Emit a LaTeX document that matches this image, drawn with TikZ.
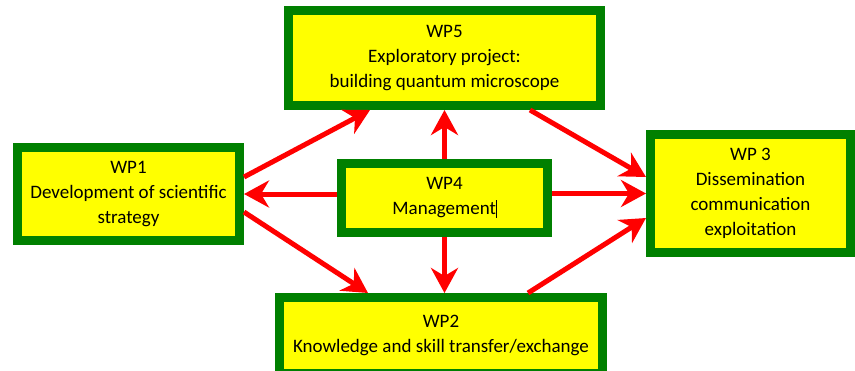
\documentclass[tikz,border=0pt]{standalone}
\usepackage{fontspec}
\setmainfont{Carlito}
\usetikzlibrary{arrows.meta}
\definecolor{wpgreen}{RGB}{0,128,0}
\definecolor{wpyellow}{RGB}{255,255,0}
\definecolor{wpred}{RGB}{255,0,0}
\tikzset{
    wpbox/.style={draw=wpgreen,fill=wpyellow,line width=9pt,align=center,inner sep=2pt,
        font=\fontsize{19}{25}\selectfont},
    link/.style={draw=wpred,line width=5pt,-{Stealth[length=25pt,width=27pt,inset=8pt]}}
}
\begin{document}
\begin{tikzpicture}[x=1pt,y=-1pt]
                \useasboundingbox (0,0) rectangle (855,370);
                \node[wpbox,minimum width=312pt,minimum height=95pt] (wp5) at (444.5,58) {WP5\\Exploratory project:\\building quantum microscope};
                \node[wpbox,minimum width=222pt,minimum height=93pt] (wp1) at (128.5,194) {WP1\\Development of scientific\\strategy};
                \node[wpbox,minimum width=206pt,minimum height=69pt] (wp4) at (444.5,198) {WP4\\Management\rule[-3pt]{0.6pt}{18pt}};
                \node[wpbox,minimum width=200pt,minimum height=118pt] (wp3) at (750.5,193.5) {WP 3\\Dissemination\\communication\\exploitation};
                \node[wpbox,minimum width=323pt,minimum height=76pt] (wp2) at (441,335.5) {WP2\\Knowledge and skill transfer/exchange};
                \draw[link] ([yshift=17pt]wp1.east) -- ([xshift=-74.5pt]wp5.south);
                \draw[link] ([yshift=-18pt]wp1.east) -- ([xshift=-73pt]wp2.north);
                \draw[link] ([xshift=85.5pt]wp5.south) -- ([yshift=16.5pt]wp3.west);
                \draw[link] ([xshift=87pt]wp2.north) -- ([yshift=-24.5pt]wp3.west);
                \draw[link] (wp4.north) -- (wp5.south);
                \draw[link] (wp4.south) -- (wp4.south |- wp2.north);
                \draw[link] (wp4.west |- wp1.east) -- (wp1.east);
                \draw[link] (wp4.east |- wp3.west) -- (wp3.west);
            \end{tikzpicture}
\end{document}
